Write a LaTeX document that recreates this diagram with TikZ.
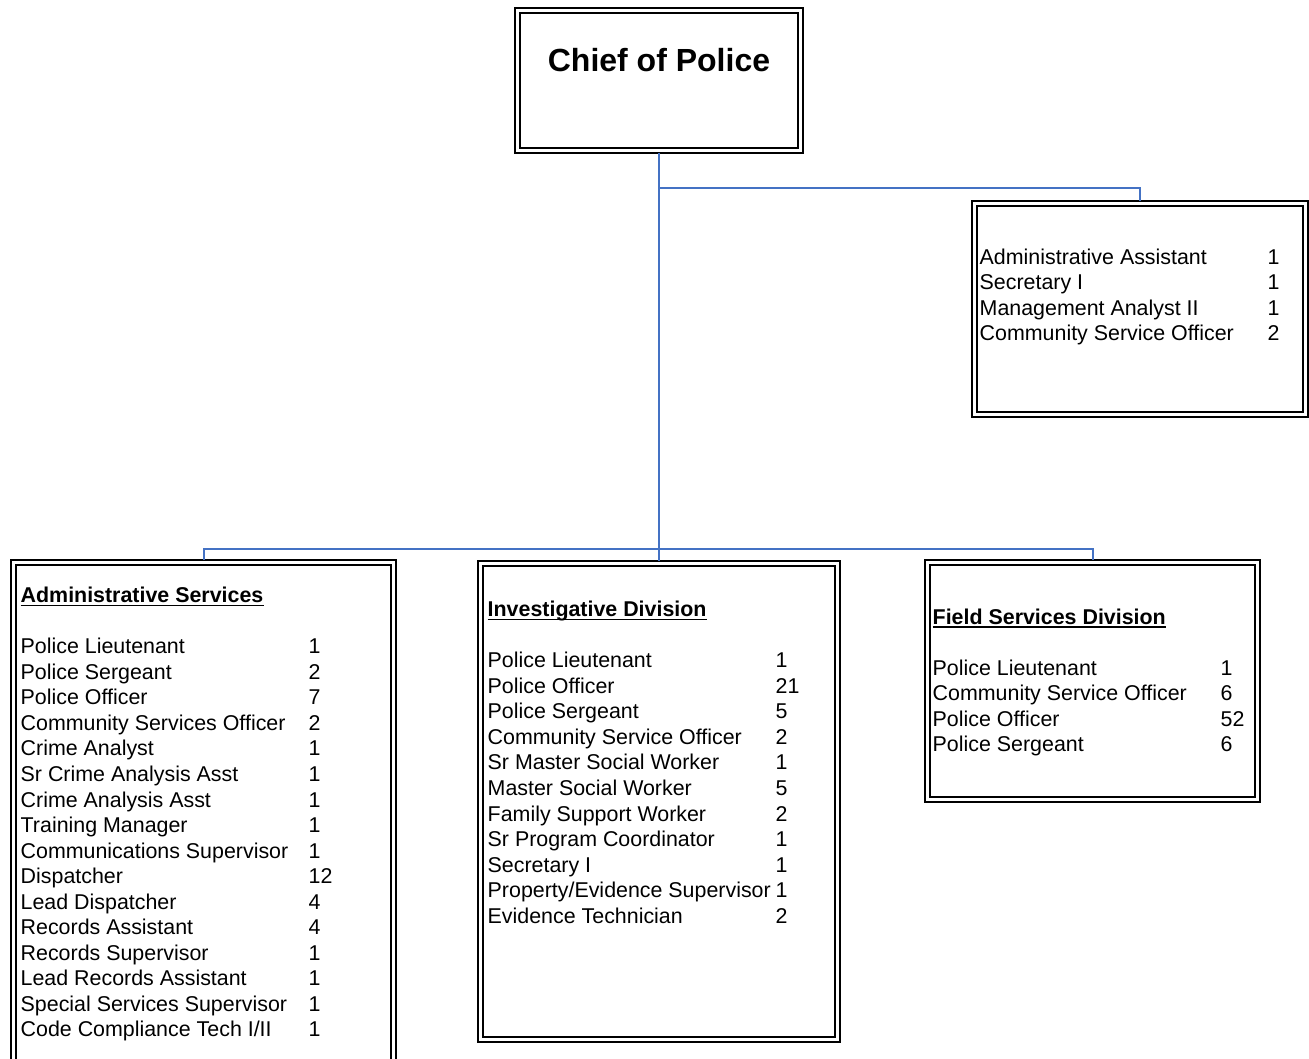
\documentclass[tikz,border=0pt]{standalone}
\usepackage{fontspec}
\setmainfont{Liberation Sans}
\definecolor{linkblue}{HTML}{4472C4}

% inner rule of the double frame around a box node
\newcommand\innerframe[1]{%
  \draw[line width=2.4pt]
    ([xshift=5pt,yshift=-5pt]#1.north west) rectangle ([xshift=-5pt,yshift=5pt]#1.south east);}

\begin{document}
\begin{tikzpicture}[x=1pt,y=-1pt,
  frame/.style={draw, line width=1.4pt, rectangle, outer sep=0pt, inner sep=0pt, anchor=north west},
  conn/.style={draw=linkblue, line width=2pt},
  item/.style={anchor=base west, inner sep=0pt, font=\fontsize{21.4}{25}\selectfont},
  head/.style={item, font=\fontsize{21.4}{25}\selectfont\bfseries},
  uline/.style={line width=1.5pt},
]
\useasboundingbox (0,0) rectangle (1309,1059);
\clip (0,0) rectangle (1309,1059);

% boxes
\node[frame, minimum width=288pt, minimum height=145pt] (chief) at (515,8) {};
\node[frame, minimum width=336pt, minimum height=216pt] (staff) at (972,201) {};
\node[frame, minimum width=385pt, minimum height=530pt] (adm) at (11,560) {};
\node[frame, minimum width=362pt, minimum height=481pt] (inv) at (478,561) {};
\node[frame, minimum width=335pt, minimum height=242pt] (fld) at (925,560) {};
\innerframe{chief}
\innerframe{staff}
\innerframe{adm}
\innerframe{inv}
\innerframe{fld}

% connectors
\coordinate (branch) at (0,188);
\coordinate (bar) at (0,549);
\draw[conn] (chief.south) -- (inv.north);
\draw[conn] (chief.south |- branch) -| (staff.north);
\draw[conn] (adm.north) |- (bar -| inv.north) -| (fld.north);

% title
\node[anchor=base, inner sep=0pt, font=\fontsize{32}{38}\selectfont\bfseries] (chieft) at (659,72) {Chief of Police};

% staff positions reporting to the chief
\foreach \t/\n [count=\i] in {Administrative Assistant/1, Secretary I/1,
    Management Analyst II/1, Community Service Officer/2}{
  \node[item] (st-t\i) at ({979.5},{264.3+25.55*(\i-1)}) {\t};
  \node[item] (st-n\i) at ({1267.5},{264.3+25.55*(\i-1)}) {\n};
}

% Administrative Services
\node[head] (adm-h) at (20.5,602.6) {Administrative Services};
\draw[uline] ([yshift=-3pt]adm-h.base west) -- ([yshift=-3pt]adm-h.base east);
\foreach \t/\n [count=\i] in {Police Lieutenant/1, Police Sergeant/2, Police Officer/7,
    Community Services Officer/2, Crime Analyst/1, Sr Crime Analysis Asst/1,
    Crime Analysis Asst/1, Training Manager/1, Communications Supervisor/1,
    Dispatcher/12, Lead Dispatcher/4, Records Assistant/4, Records Supervisor/1,
    Lead Records Assistant/1, Special Services Supervisor/1,
    {Code Compliance Tech I/II}/1}{
  \node[item] (adm-t\i) at ({20.5},{653.7+25.55*(\i-1)}) {\t};
  \node[item] (adm-n\i) at ({308.5},{653.7+25.55*(\i-1)}) {\n};
}

% Investigative Division
\node[head] (inv-h) at (487.5,616.6) {Investigative Division};
\draw[uline] ([yshift=-3pt]inv-h.base west) -- ([yshift=-3pt]inv-h.base east);
\foreach \t/\n [count=\i] in {Police Lieutenant/1, Police Officer/21, Police Sergeant/5,
    Community Service Officer/2, Sr Master Social Worker/1, Master Social Worker/5,
    Family Support Worker/2, Sr Program Coordinator/1, Secretary I/1,
    {Property/Evidence Supervisor}/1, Evidence Technician/2}{
  \node[item] (inv-t\i) at ({487.5},{667.7+25.55*(\i-1)}) {\t};
  \node[item] (inv-n\i) at ({775.5},{667.7+25.55*(\i-1)}) {\n};
}

% Field Services Division
\node[head] (fld-h) at (932.5,624) {Field Services Division};
\draw[uline] ([yshift=-3pt]fld-h.base west) -- ([yshift=-3pt]fld-h.base east);
\foreach \t/\n [count=\i] in {Police Lieutenant/1, Community Service Officer/6,
    Police Officer/52, Police Sergeant/6}{
  \node[item] (fld-t\i) at ({932.5},{675.2+25.55*(\i-1)}) {\t};
  \node[item] (fld-n\i) at ({1220.5},{675.2+25.55*(\i-1)}) {\n};
}
\end{tikzpicture}
\end{document}
